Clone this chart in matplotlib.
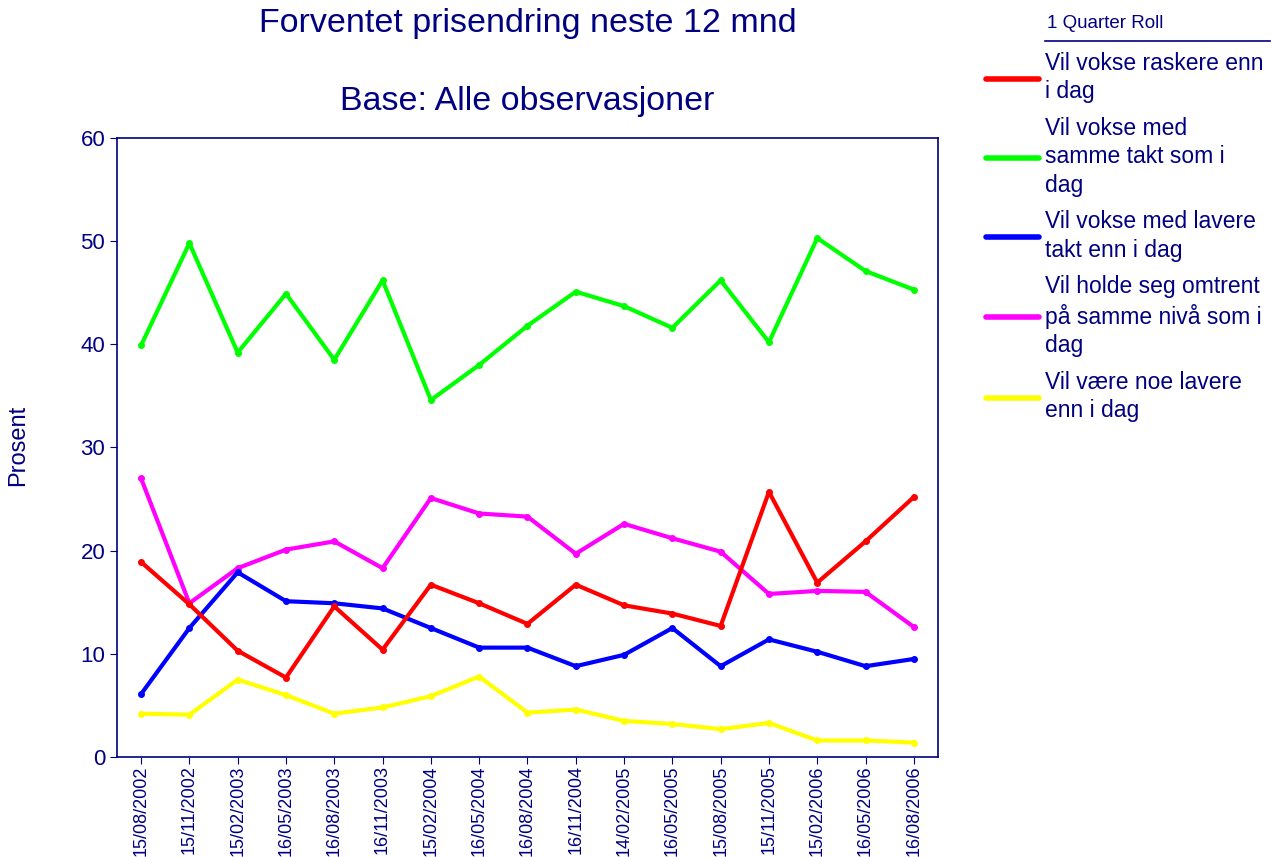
import matplotlib
matplotlib.use("Agg")
import matplotlib.pyplot as plt
from matplotlib.lines import Line2D

plt.rcParams['font.family'] = ['Liberation Sans', 'DejaVu Sans']

navy = "#000080"

datoer = ["15/08/2002", "15/11/2002", "15/02/2003", "16/05/2003", "16/08/2003",
          "16/11/2003", "15/02/2004", "16/05/2004", "16/08/2004", "16/11/2004",
          "14/02/2005", "16/05/2005", "15/08/2005", "15/11/2005", "15/02/2006",
          "16/05/2006", "16/08/2006"]

raskere = [18.9, 14.8, 10.3, 7.7, 14.6, 10.4, 16.7, 14.9, 12.9, 16.7,
           14.7, 13.9, 12.7, 25.7, 16.9, 20.9, 25.2]
samme_takt = [39.9, 49.8, 39.2, 44.9, 38.5, 46.2, 34.6, 38.0, 41.8, 45.1,
              43.7, 41.6, 46.2, 40.2, 50.3, 47.1, 45.3]
lavere_takt = [6.1, 12.5, 17.9, 15.1, 14.9, 14.4, 12.5, 10.6, 10.6, 8.8,
               9.9, 12.5, 8.8, 11.4, 10.2, 8.8, 9.5]
samme_niva = [27.0, 14.9, 18.3, 20.1, 20.9, 18.3, 25.1, 23.6, 23.3, 19.7,
              22.6, 21.2, 19.9, 15.8, 16.1, 16.0, 12.6]
noe_lavere = [4.2, 4.1, 7.5, 6.0, 4.2, 4.8, 5.9, 7.8, 4.3, 4.6,
              3.5, 3.2, 2.7, 3.3, 1.6, 1.6, 1.4]

serier = [
    ("Vil vokse raskere enn\ni dag", raskere, "#ff0000"),
    ("Vil vokse med\nsamme takt som i\ndag", samme_takt, "#00ff00"),
    ("Vil vokse med lavere\ntakt enn i dag", lavere_takt, "#0000ff"),
    ("Vil holde seg omtrent\npå samme nivå som i\ndag", samme_niva, "#ff00ff"),
    ("Vil være noe lavere\nenn i dag", noe_lavere, "#ffff00"),
]

fig = plt.figure(figsize=(12.71, 8.57), dpi=100)
ax = fig.add_axes([0.092, 0.1167, 0.646, 0.7223])

x = list(range(len(datoer)))
handles = []
for i, (navn, verdier, farge) in enumerate(serier):
    ax.plot(x, verdier, color=farge, lw=3, marker="o", ms=4, zorder=10 - i)
    handles.append(Line2D([0], [0], color=farge, lw=4, solid_capstyle="round"))

ax.set_xlim(-0.5, len(datoer) - 0.5)
ax.set_ylim(0, 60)
ax.set_yticks(range(0, 61, 10))
ax.set_xticks(x)
ax.set_xticklabels(datoer, rotation=90, fontsize=13, color=navy)
ax.tick_params(axis="y", labelsize=16, labelcolor=navy, color=navy, length=5)
ax.tick_params(axis="x", color=navy, length=5, pad=1)
for sp in ax.spines.values():
    sp.set_color(navy)
    sp.set_linewidth(1.2)

fig.text(0.014, 0.48, "Prosent", rotation=90, fontsize=17, color=navy,
         ha="center", va="center")

fig.text(0.415, 0.972, "Forventet prisendring neste 12 mnd", ha="center", va="center",
         fontsize=24.5, color=navy)
fig.text(0.415, 0.881, "Base: Alle observasjoner", ha="center", va="center",
         fontsize=24.5, color=navy)

# legend
fig.text(0.824, 0.973, "1 Quarter Roll", fontsize=13.5, color=navy, va="center")
fig.add_artist(Line2D([0.822, 0.999], [0.952, 0.952], color=navy, lw=1.2))
leg = fig.legend(handles, [s[0] for s in serier], loc="upper left",
                 bbox_to_anchor=(0.776, 0.939), frameon=False, fontsize=16.5,
                 handlelength=2.3, handletextpad=0.25, labelspacing=0.6,
                 borderaxespad=0, borderpad=0)
for t in leg.get_texts():
    t.set_color(navy)
    t.set_linespacing(1.29)

fig.savefig("out.png", dpi=100)
